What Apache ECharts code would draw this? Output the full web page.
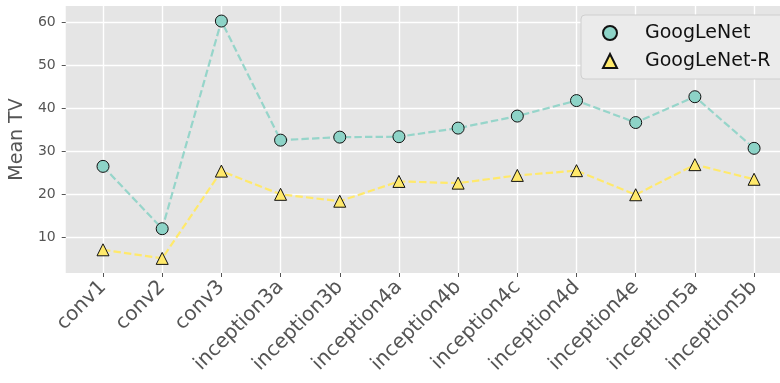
<!DOCTYPE html>
<html>
<head>
<meta charset="utf-8">
<script src="https://cdn.jsdelivr.net/npm/echarts@6/dist/echarts.min.js"></script>
<style>
  html, body { margin: 0; padding: 0; background: #fff; }
  #chart { width: 780px; height: 383px; }
</style>
</head>
<body>
<div id="chart"></div>
<script>
// Layer names along the x axis
const layers = ['conv1', 'conv2', 'conv3', 'inception3a', 'inception3b', 'inception4a',
  'inception4b', 'inception4c', 'inception4d', 'inception4e', 'inception5a', 'inception5b'];

// Mean TV per layer
const googlenet = [26.4, 11.9, 60.2, 32.5, 33.2, 33.3, 35.3, 38.1, 41.7, 36.6, 42.6, 30.6];
const googlenetR = [7.0, 5.0, 25.3, 19.9, 18.3, 22.9, 22.5, 24.3, 25.4, 19.8, 26.8, 23.4];

// Y tick values
const yTicks = [10, 20, 30, 40, 50, 60];

const FONT = 'DejaVu Sans';
const layerIdx = layers.map((_, i) => i);

const chart = echarts.init(document.getElementById('chart'), null, { renderer: 'canvas' });

function series(name, values, symbol, color, lineOpacity) {
  return {
    name: name,
    type: 'line',
    data: values.map((v, i) => [i, v]),
    symbol: symbol,
    symbolSize: 12,
    showAllSymbol: true,
    lineStyle: { color: color, width: 2.2, type: [7.4, 3.2], opacity: lineOpacity },
    itemStyle: { color: color, borderColor: '#111', borderWidth: 1, opacity: 1 },
    emphasis: { disabled: true },
    animation: false
  };
}

chart.setOption({
  animation: false,
  backgroundColor: '#ffffff',
  grid: {
    left: 65, right: 0, top: 6, bottom: 110,
    show: true, backgroundColor: '#e5e5e5', borderWidth: 0
  },
  legend: {
    orient: 'vertical',
    left: 581, top: 15,
    padding: [8, 20, 8, 21],
    itemWidth: 14, itemHeight: 14, itemGap: 8,
    backgroundColor: '#ebebeb',
    borderColor: '#cfcfcf', borderWidth: 1, borderRadius: 4,
    textStyle: { fontFamily: FONT, fontSize: 19, color: '#111', lineHeight: 20, padding: [0, 0, 0, 23] },
    data: [
      { name: 'GoogLeNet', icon: 'circle' },
      { name: 'GoogLeNet-R', icon: 'triangle' }
    ],
    selectedMode: false
  },
  xAxis: {
    type: 'value',
    min: -0.63, max: 11.438,
    axisLine: { show: false, onZero: false },
    axisTick: { show: true, length: 4, customValues: layerIdx, lineStyle: { color: '#555', width: 1 } },
    axisLabel: {
      customValues: layerIdx,
      formatter: v => layers[Math.round(v)],
      rotate: 45, margin: 11,
      fontFamily: FONT, fontSize: 20, color: '#555'
    },
    splitLine: { show: true, lineStyle: { color: '#ffffff', width: 1.4 } }
  },
  yAxis: {
    type: 'value',
    min: 1.6, max: 63.7,
    name: 'Mean TV', nameLocation: 'middle', nameGap: 27,
    nameTextStyle: { fontFamily: FONT, fontSize: 19, color: '#555' },
    axisLine: { show: false, onZero: false },
    axisTick: { show: true, length: 4, customValues: yTicks, lineStyle: { color: '#555', width: 1 } },
    axisLabel: { customValues: yTicks, margin: 10, fontFamily: FONT, fontSize: 14, color: '#555' },
    splitLine: { show: true, lineStyle: { color: '#ffffff', width: 1.4 } }
  },
  series: [
    series('GoogLeNet', googlenet, 'circle', '#8dd3c7', 0.9),
    series('GoogLeNet-R', googlenetR, 'triangle', '#ffe96b', 1)
  ]
});
</script>
</body>
</html>
